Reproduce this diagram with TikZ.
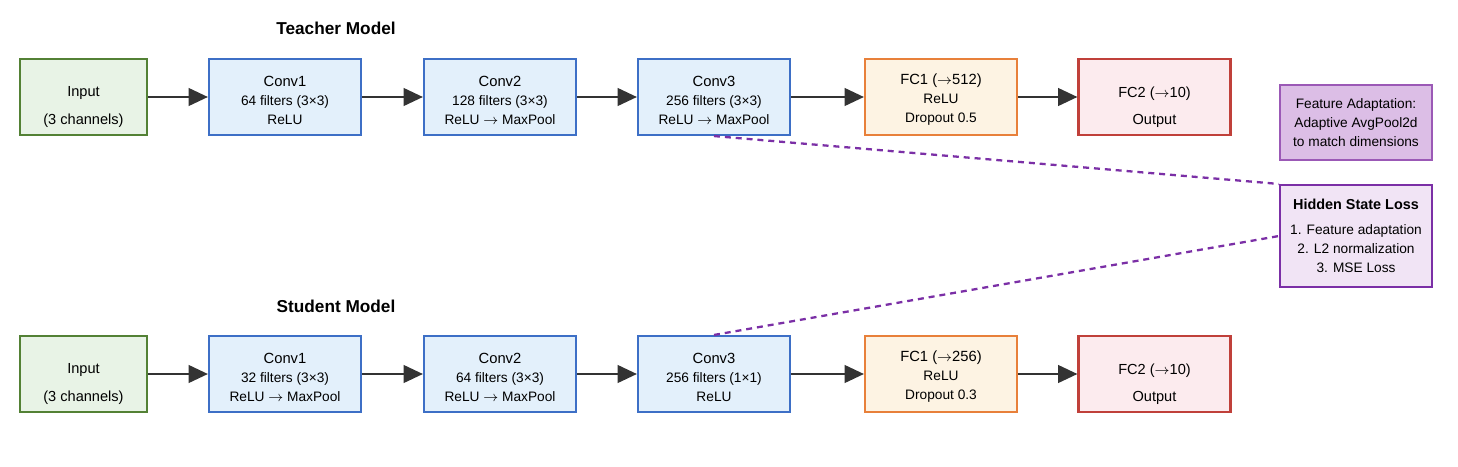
\documentclass[tikz,border=0pt]{standalone}
\usepackage{fontspec}
\setmainfont{Liberation Sans}
\newcommand{\toarrow}{\ensuremath{\rightarrow}}
\usetikzlibrary{arrows.meta,positioning}

\definecolor{inB}{HTML}{538135}
\definecolor{inF}{HTML}{E8F3E6}
\definecolor{convB}{HTML}{3D6FC6}
\definecolor{convF}{HTML}{E3F0FB}
\definecolor{fcB}{HTML}{E8803A}
\definecolor{fcF}{HTML}{FDF3E3}
\definecolor{outB}{HTML}{C0403A}
\definecolor{outF}{HTML}{FCEBEE}
\definecolor{lossB}{HTML}{7B2FA6}
\definecolor{lossF}{HTML}{F1E4F5}
\definecolor{adaptB}{HTML}{9B59B6}
\definecolor{adaptF}{HTML}{DCBEE6}
\definecolor{arrowc}{HTML}{333333}

\begin{document}
\begin{tikzpicture}[
  blk/.style={draw=#1B, fill=#1F, line width=1.2pt, minimum width=3.04cm, minimum height=1.52cm, inner sep=0},
  two/.style={align=center, font=\fontsize{8.3}{15.4}\selectfont},
  three/.style={align=center, font=\fontsize{7.8}{10.8}\selectfont},
  ttl/.style={font=\fontsize{9.8}{12}\selectfont\bfseries},
  arrow/.style={-{Triangle[length=11pt,width=10pt]}, line width=1.4pt, arrowc},
  link/.style={lossB, line width=1.3pt, dash pattern=on 3.4pt off 2.8pt}
]
  \useasboundingbox (0,0) rectangle (29.16,-9.32);

  % Teacher model
  \node[ttl] (t-title) at (6.72,-0.56) {Teacher Model};
  \node[blk=in, minimum width=2.54cm] (t-in) at (1.67,-1.94) {};
  \node[two] (t-in-txt) at ([yshift=-0.2cm]t-in.center) {Input\\(3 channels)};
  \node[blk=conv] (t-c1) at (5.70,-1.94) {};
  \node[three] (t-c1-txt) at ([yshift=-0.06cm]t-c1.center) {{\fontsize{8.4}{10.8}\selectfont Conv1}\\64 filters (3×3)\\ReLU};
  \node[blk=conv] (t-c2) at (10.0,-1.94) {};
  \node[three] (t-c2-txt) at ([yshift=-0.06cm]t-c2.center) {{\fontsize{8.4}{10.8}\selectfont Conv2}\\128 filters (3×3)\\ReLU \toarrow{} MaxPool};
  \node[blk=conv] (t-c3) at (14.28,-1.94) {};
  \node[three] (t-c3-txt) at ([yshift=-0.06cm]t-c3.center) {{\fontsize{8.4}{10.8}\selectfont Conv3}\\256 filters (3×3)\\ReLU \toarrow{} MaxPool};
  \node[blk=fc] (t-fc1) at (18.82,-1.94) {};
  \node[three] (t-fc1-txt) at ([yshift=-0.06cm]t-fc1.center) {{\fontsize{8.4}{10.8}\selectfont FC1 (\toarrow512)}\\ReLU\\Dropout 0.5};
  \node[blk=out] (t-fc2) at (23.09,-1.94) {};
  \node[two] (t-fc2-txt) at ([yshift=-0.2cm]t-fc2.center) {FC2 (\toarrow10)\\Output};

  % Student model
  \node[ttl] (s-title) at (6.72,-6.12) {Student Model};
  \node[blk=in, minimum width=2.54cm] (s-in) at (1.67,-7.48) {};
  \node[two] (s-in-txt) at ([yshift=-0.2cm]s-in.center) {Input\\(3 channels)};
  \node[blk=conv] (s-c1) at (5.70,-7.48) {};
  \node[three] (s-c1-txt) at ([yshift=-0.06cm]s-c1.center) {{\fontsize{8.4}{10.8}\selectfont Conv1}\\32 filters (3×3)\\ReLU \toarrow{} MaxPool};
  \node[blk=conv] (s-c2) at (10.0,-7.48) {};
  \node[three] (s-c2-txt) at ([yshift=-0.06cm]s-c2.center) {{\fontsize{8.4}{10.8}\selectfont Conv2}\\64 filters (3×3)\\ReLU \toarrow{} MaxPool};
  \node[blk=conv] (s-c3) at (14.28,-7.48) {};
  \node[three] (s-c3-txt) at ([yshift=-0.06cm]s-c3.center) {{\fontsize{8.4}{10.8}\selectfont Conv3}\\256 filters (1×1)\\ReLU};
  \node[blk=fc] (s-fc1) at (18.82,-7.48) {};
  \node[three] (s-fc1-txt) at ([yshift=-0.06cm]s-fc1.center) {{\fontsize{8.4}{10.8}\selectfont FC1 (\toarrow256)}\\ReLU\\Dropout 0.3};
  \node[blk=out] (s-fc2) at (23.09,-7.48) {};
  \node[two] (s-fc2-txt) at ([yshift=-0.2cm]s-fc2.center) {FC2 (\toarrow10)\\Output};

  % Forward connections
  \foreach \r in {t,s} {
    \foreach \a/\b in {in/c1, c1/c2, c2/c3, c3/fc1, fc1/fc2} {
      \draw[arrow] (\r-\a) -- (\r-\b);
    }
  }

  % Distillation side
  \node[draw=adaptB, fill=adaptF, line width=0.6pt, minimum width=3.04cm, minimum height=1.5cm,
        align=center, font=\fontsize{7.8}{10.8}\selectfont] (adapt) at (27.12,-2.45)
    {Feature Adaptation:\\Adaptive AvgPool2d\\to match dimensions};
  \node[draw=lossB, fill=lossF, line width=1.2pt, minimum width=3.04cm, minimum height=2.04cm,
        align=center, font=\fontsize{7.8}{10.8}\selectfont] (loss) at (27.12,-4.72)
    {{\fontsize{8.2}{10.8}\selectfont\bfseries Hidden State Loss}\\[3.4pt]1. Feature adaptation\\2. L2 normalization\\3. MSE Loss};

  \draw[link] (t-c3.south) -- (loss.north west);
  \draw[link] (s-c3.north) -- (loss.west);
\end{tikzpicture}
\end{document}
